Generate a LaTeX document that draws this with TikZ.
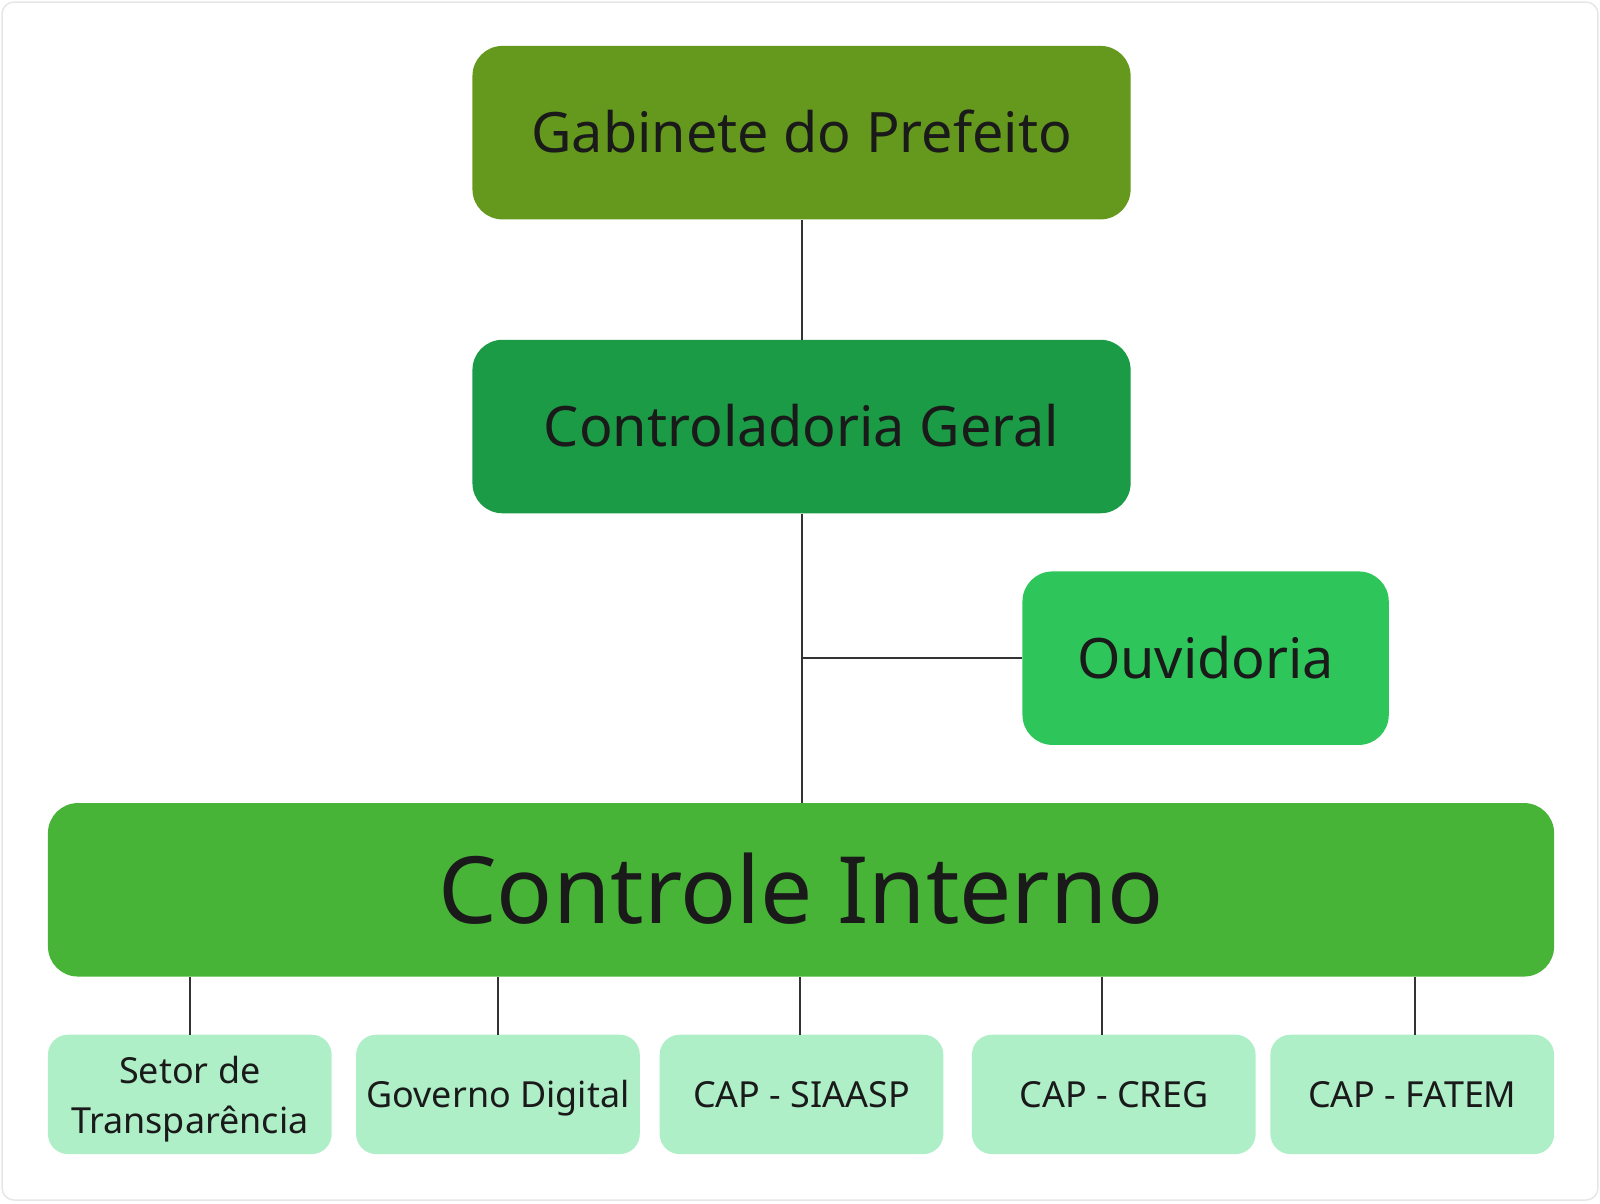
\documentclass[tikz,border=0pt]{standalone}
\usepackage{fontspec}
\setmainfont{Noto Sans}
\definecolor{gabc}{HTML}{65991D}
\definecolor{contc}{HTML}{1B9B46}
\definecolor{ouvc}{HTML}{2EC65A}
\definecolor{cic}{HTML}{47B337}
\definecolor{subc}{HTML}{AEEFC8}
\definecolor{txtc}{HTML}{1A1A1A}
\definecolor{linec}{HTML}{333333}
\definecolor{framec}{HTML}{E6E6E6}
\begin{document}
\begin{tikzpicture}[x=1pt,y=-1pt,scale=1.0204,transform shape,
  box/.style={rounded corners=30pt, inner sep=0pt, minimum height=170pt, text=txtc, text height=39.5pt, text depth=0pt, font=\fontsize{54.6}{66}\selectfont},
  subbox/.style={rounded corners=20pt, inner sep=0pt, minimum height=117pt, minimum width=278pt, fill=subc, text=txtc, font=\fontsize{35.2}{49}\selectfont},
  oneline/.style={text height=25.2pt, text depth=0pt},
  conn/.style={draw=linec, line width=2.2pt}]
\useasboundingbox (0,0) rectangle (1568,1179);
\draw[framec, line width=1.5pt, rounded corners=12pt] (2,2) rectangle (1566,1176);
\node[box, fill=gabc, minimum width=645pt] (gab) at (785.5,130) {Gabinete do Prefeito};
\node[box, fill=contc, minimum width=645pt] (cont) at (785.5,418) {Controladoria Geral};
\node[box, fill=ouvc, minimum width=359pt] (ouv) at (1181.5,645) {Ouvidoria};
\node[box, fill=cic, minimum width=1476pt, font=\fontsize{91}{110}\selectfont, text height=66pt] (ci) at (785,872) {Controle Interno};
\node[subbox, align=center, text depth=0pt] (setor) at (186,1072.5) {Setor de\\Transparência};
\node[subbox, oneline] (gov) at (488,1072.5) {Governo Digital};
\node[subbox, oneline] (siaasp) at (785.5,1072.5) {CAP - SIAASP};
\node[subbox, oneline] (creg) at (1091.5,1072.5) {CAP - CREG};
\node[subbox, oneline] (fatem) at (1384,1072.5) {CAP - FATEM};
\draw[conn] (gab.south) -- (cont.north);
\draw[conn] (cont.south) -- (cont.south |- ci.north);
\draw[conn] (ouv.west) -- (ouv.west -| cont.south);
\draw[conn] (setor.north) -- (setor.north |- ci.south);
\draw[conn] (gov.north) -- (gov.north |- ci.south);
\draw[conn] ([xshift=-1.5pt]siaasp.north) -- ([xshift=-1.5pt]siaasp.north |- ci.south);
\draw[conn] ([xshift=-11.5pt]creg.north) -- ([xshift=-11.5pt]creg.north |- ci.south);
\draw[conn] ([xshift=2pt]fatem.north) -- ([xshift=2pt]fatem.north |- ci.south);
\end{tikzpicture}
\end{document}
